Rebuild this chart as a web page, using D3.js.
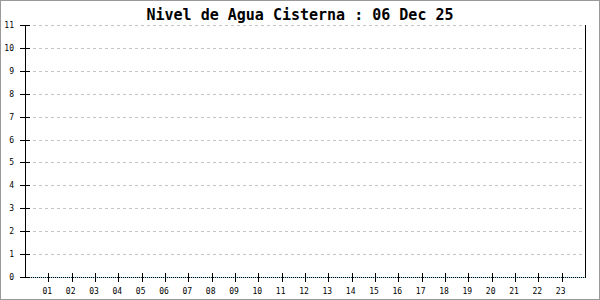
<!DOCTYPE html>
<html>
<head>
<meta charset="utf-8">
<script src="https://cdn.jsdelivr.net/npm/d3@7"></script>
<style>
  body { margin: 0; background: #fff; }
  text { font-family: "DejaVu Sans Mono", monospace; }
</style>
</head>
<body>
<div id="chart"></div>
<script>
const title = "Nivel de Agua Cisterna : 06 Dec 25";
const hours = [0, 1, 2, 3, 4, 5, 6, 7, 8, 9, 10, 11, 12, 13, 14, 15, 16, 17, 18, 19, 20, 21, 22, 23, 24];
const levels = [0, 0, 0, 0, 0, 0, 0, 0, 0, 0, 0, 0, 0, 0, 0, 0, 0, 0, 0, 0, 0, 0, 0, 0, 0];
const xTickLabels = ["01", "02", "03", "04", "05", "06", "07", "08", "09", "10", "11", "12",
  "13", "14", "15", "16", "17", "18", "19", "20", "21", "22", "23"];
const yTicks = [0, 1, 2, 3, 4, 5, 6, 7, 8, 9, 10, 11];

const W = 600, H = 300;
const margin = { top: 25, right: 15, bottom: 23, left: 25 };

const svg = d3.select("#chart").append("svg")
  .attr("width", W).attr("height", H);

svg.append("rect")
  .attr("x", 0.5).attr("y", 0.5)
  .attr("width", W - 1).attr("height", H - 1)
  .attr("fill", "#fff").attr("stroke", "#999");

const x = d3.scaleLinear().domain([0, 24]).range([margin.left, W - margin.right]);
const y = d3.scaleLinear().domain([0, 11]).range([H - margin.bottom, margin.top]);

// grid
svg.append("g")
  .selectAll("line")
  .data(yTicks.filter(d => d > 0))
  .join("line")
  .attr("x1", x(0) + 8).attr("x2", x(24) - 2)
  .attr("y1", d => Math.round(y(d)) + 0.5)
  .attr("y2", d => Math.round(y(d)) + 0.5)
  .attr("stroke", "#c4c4c4")
  .attr("stroke-dasharray", "3,3");

// data line
const line = d3.line().x((d, i) => x(hours[i])).y(d => Math.round(y(d)) + 0.5);
svg.append("path").datum(levels)
  .attr("fill", "none").attr("stroke", "#8fd0e0").attr("d", line);
svg.append("path").datum(levels)
  .attr("fill", "none").attr("stroke", "#000")
  .attr("stroke-dasharray", "1,1").attr("d", line);

// y axis
const yAxis = svg.append("g");
yAxis.append("line")
  .attr("x1", x(0) + 0.5).attr("x2", x(0) + 0.5)
  .attr("y1", y(11)).attr("y2", y(0) + 1)
  .attr("stroke", "#000");
yAxis.selectAll(".tk")
  .data(yTicks)
  .join("line")
  .attr("x1", x(0) - 5).attr("x2", x(0) + 5)
  .attr("y1", d => Math.round(y(d)) + 0.5)
  .attr("y2", d => Math.round(y(d)) + 0.5)
  .attr("stroke", "#000");
yAxis.selectAll("text")
  .data(yTicks)
  .join("text")
  .attr("x", 14)
  .attr("y", d => Math.round(y(d)) + 3)
  .attr("text-anchor", "end")
  .attr("font-size", 8)
  .text(d => d);

// right edge line
svg.append("line")
  .attr("x1", x(24) + 0.5).attr("x2", x(24) + 0.5)
  .attr("y1", y(11)).attr("y2", y(0) + 1)
  .attr("stroke", "#000");

// x axis ticks
const xAxis = svg.append("g");
xAxis.selectAll("line")
  .data(xTickLabels)
  .join("line")
  .attr("x1", (d, i) => Math.round(x(i + 1)) + 0.5)
  .attr("x2", (d, i) => Math.round(x(i + 1)) + 0.5)
  .attr("y1", y(0) - 4).attr("y2", y(0) + 5)
  .attr("stroke", "#000");
xAxis.selectAll("text")
  .data(xTickLabels)
  .join("text")
  .attr("x", (d, i) => x(i + 1) - 1)
  .attr("y", 294)
  .attr("text-anchor", "middle")
  .attr("font-size", 8)
  .text(d => d);

// title
svg.append("text")
  .attr("x", W / 2).attr("y", 20)
  .attr("text-anchor", "middle")
  .attr("font-size", 15)
  .attr("font-weight", "bold")
  .text(title);
</script>
</body>
</html>
